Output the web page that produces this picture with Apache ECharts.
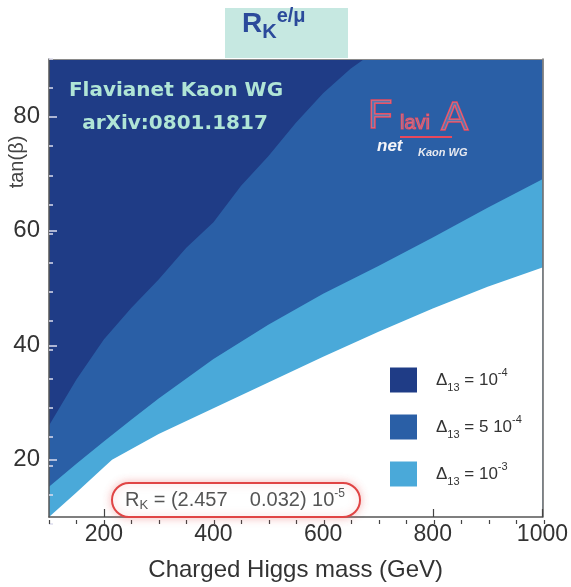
<!DOCTYPE html>
<html><head><meta charset="utf-8">
<script src="https://cdn.jsdelivr.net/npm/echarts@6/dist/echarts.min.js"></script>
<style>html,body{margin:0;padding:0;background:#fff}#c{width:571px;height:587px}</style>
</head><body><div id="c"></div>
<script>
// Boundary of the Δ13 = 1e-4 region (dark, above this line)
const massDark = [100, 150, 200, 250, 300, 350, 400, 450, 500, 550, 600, 650, 675];
const tanDark  = [26, 34, 41, 46.5, 51.5, 57, 61.5, 67.8, 73, 78.8, 84, 88.3, 90];
// Boundary of the Δ13 = 5e-4 region (medium, above this line)
const massMid = [100, 150, 200, 250, 300, 400, 500, 600, 700, 800, 900, 1000];
const tanMid  = [15.3, 19.3, 23.2, 27, 30.7, 37.6, 43.6, 49, 53.8, 58.8, 64, 69];
// Boundary of the Δ13 = 1e-3 region (light, above this line)
const massLow = [100, 150, 200, 215, 300, 400, 500, 600, 700, 800, 900, 1000];
const tanLow  = [10, 14.3, 18.7, 20, 24.5, 29, 33.5, 38, 42.3, 46.4, 50.2, 53.6];

const xTickLabels = [200, 400, 600, 800, 1000];
const yTickLabels = [20, 40, 60, 80];
const legendNames = ['d4', 'd54', 'd3'];
const legendText = {
  d4: '{d|Δ}{s|13}{n| = 10}{p|-4}',
  d54: '{d|Δ}{s|13}{n| = 5 10}{p|-4}',
  d3: '{d|Δ}{s|13}{n| = 10}{p|-3}'
};

const DARK = '#1f3c86', MID = '#2a5fa6', LIGHT = '#4aa9d9';
const zip = (a, b) => a.map((v, i) => [v, b[i]]);

const chart = echarts.init(document.getElementById('c'), null, {renderer: 'canvas'});
const font = 'Liberation Sans';
const areaSeries = (name, xs, ys, color, origin) => ({
  name, type: 'line', data: zip(xs, ys), showSymbol: false, symbol: 'none',
  lineStyle: {width: 0, opacity: 0}, itemStyle: {color},
  areaStyle: {color, opacity: 1, origin}, silent: true, animation: false, clip: true,
  xAxisIndex: 0, yAxisIndex: 0, z: 2
});
const gridBox = {left: 49, right: 27, top: 59, bottom: 63};

chart.setOption({
  animation: false,
  backgroundColor: '#fff',
  grid: [
    Object.assign({show: true, backgroundColor: MID, borderWidth: 0}, gridBox),
    Object.assign({show: false}, gridBox)
  ],
  legend: {
    data: legendNames, orient: 'vertical', left: 385, top: 362, icon: 'rect',
    itemWidth: 27, itemHeight: 25, itemGap: 21, selectedMode: false,
    formatter: n => legendText[n],
    textStyle: {
      padding: [0, 0, 0, 14],
      rich: {
        d: {fontSize: 17, color: '#333', fontFamily: font, lineHeight: 26},
        n: {fontSize: 17, color: '#333', fontFamily: font, lineHeight: 26},
        s: {fontSize: 11, color: '#333', fontFamily: font, verticalAlign: 'bottom', lineHeight: 12},
        p: {fontSize: 11, color: '#333', fontFamily: font, verticalAlign: 'top', lineHeight: 12}
      }
    }
  },
  xAxis: [
    {gridIndex: 0, type: 'value', min: 100, max: 1000, position: 'bottom', z: 10,
     axisLine: {show: true, onZero: false, lineStyle: {color: '#555', width: 1.5}},
     axisTick: {show: true, inside: true, length: 8, customValues: xTickLabels, lineStyle: {color: '#444', width: 1.2}},
     axisLabel: {customValues: xTickLabels, formatter: v => String(v), fontSize: 23, color: '#333', fontFamily: font, margin: 6},
     splitLine: {show: false},
     name: 'Charged Higgs mass (GeV)', nameLocation: 'middle', nameGap: 41,
     nameTextStyle: {fontSize: 24, color: '#333', fontFamily: font}},
    {gridIndex: 0, type: 'value', min: 100, max: 1000, position: 'top', z: 10,
     axisLine: {show: true, onZero: false, lineStyle: {color: '#8a8a8a', width: 1}},
     axisTick: {show: false}, axisLabel: {show: false}, splitLine: {show: false}},
    {gridIndex: 1, type: 'value', min: 100, max: 1000, interval: 50, position: 'bottom', z: 10,
     axisLine: {show: false, onZero: false}, axisLabel: {show: false}, splitLine: {show: false},
     axisTick: {show: true, inside: true, length: 4, lineStyle: {color: '#444', width: 1.2}}}
  ],
  yAxis: [
    {gridIndex: 0, type: 'value', min: 10, max: 90, position: 'left', z: 10,
     axisLine: {show: true, onZero: false, lineStyle: {color: '#555', width: 1.5}},
     axisTick: {show: true, inside: true, length: 8, customValues: yTickLabels, lineStyle: {color: '#dde', width: 1.5}},
     axisLabel: {customValues: yTickLabels, fontSize: 24, color: '#333', fontFamily: font, margin: 9},
     splitLine: {show: false}},
    {gridIndex: 0, type: 'value', min: 10, max: 90, position: 'right', z: 10,
     axisLine: {show: true, onZero: false, lineStyle: {color: '#666', width: 1.5}},
     axisTick: {show: false}, axisLabel: {show: false}, splitLine: {show: false}},
    {gridIndex: 1, type: 'value', min: 10, max: 90, interval: 5, position: 'left', z: 10,
     axisLine: {show: false, onZero: false}, axisLabel: {show: false}, splitLine: {show: false},
     axisTick: {show: true, inside: true, length: 4, lineStyle: {color: '#dde', width: 1.5}}}
  ],
  series: [
    areaSeries('d4', massDark, tanDark, DARK, 'end'),
    {name: 'd54', type: 'line', data: [], itemStyle: {color: MID}, lineStyle: {opacity: 0}},
    areaSeries('d3', massMid, tanMid, LIGHT, 'start'),
    areaSeries('white', massLow, tanLow, '#ffffff', 'start')
  ],
  graphic: [
    // title box
    {type: 'rect', left: 225, top: 8, shape: {width: 123, height: 50}, style: {fill: '#c6e8e1'}, z: 10},
    {type: 'text', left: 242, top: 6, z: 11, style: {
      text: '{r|R}{k|K}{e|e/μ}', rich: {
        r: {fontSize: 28, fontWeight: 'bold', fontFamily: font, fill: '#2b4a9b', lineHeight: 36},
        k: {fontSize: 20, fontWeight: 'bold', fontFamily: font, fill: '#2b4a9b', verticalAlign: 'bottom', lineHeight: 20},
        e: {fontSize: 20, fontWeight: 'bold', fontFamily: font, fill: '#2b4a9b', verticalAlign: 'top', lineHeight: 20}
      }}},
    // y axis name
    {type: 'text', x: 17, y: 162, rotation: Math.PI / 2, z: 11, style: {
      text: 'tan(β)', fontSize: 20, fontFamily: font, fill: '#444', align: 'center', verticalAlign: 'middle'}},
    // Flavianet text
    {type: 'text', x: 176, y: 91, z: 11, style: {text: 'Flavianet Kaon WG', fontSize: 20, fontWeight: 'bold',
      fontFamily: 'DejaVu Sans', fill: '#b0e5d6', align: 'center', verticalAlign: 'middle'}},
    {type: 'text', x: 175, y: 124, z: 11, style: {text: 'arXiv:0801.1817', fontSize: 20, fontWeight: 'bold',
      fontFamily: 'DejaVu Sans', fill: '#b0e5d6', align: 'center', verticalAlign: 'middle'}},
    // FlaviA logo
    {type: 'text', x: 368, y: 137, z: 11, style: {text: 'F', fontSize: 40, fontFamily: font,
      fill: 'rgba(255,220,225,0.2)', stroke: '#e8485c', lineWidth: 1.5, verticalAlign: 'bottom'}},
    {type: 'text', x: 400, y: 133, z: 11, style: {text: 'lavi', fontSize: 20, fontFamily: font,
      fill: 'rgba(255,220,225,0.2)', stroke: '#e8485c', lineWidth: 1.2, verticalAlign: 'bottom'}},
    {type: 'text', x: 441, y: 139, z: 11, style: {text: 'A', fontSize: 41, fontFamily: font,
      fill: 'rgba(255,220,225,0.2)', stroke: '#e8485c', lineWidth: 1.5, verticalAlign: 'bottom'}},
    {type: 'line', z: 11, shape: {x1: 400, y1: 137, x2: 452, y2: 137}, style: {stroke: '#e8485c', lineWidth: 2}},
    {type: 'text', x: 377, y: 146, z: 11, style: {text: 'net', fontSize: 17, fontStyle: 'italic', fontWeight: 'bold',
      fontFamily: font, fill: '#f4f4f8', verticalAlign: 'middle'}},
    {type: 'text', x: 418, y: 153, z: 11, style: {text: 'Kaon WG', fontSize: 11, fontStyle: 'italic', fontWeight: 'bold',
      fontFamily: font, fill: '#e8eaf0', verticalAlign: 'middle'}},
    // R_K box
    {type: 'rect', z: 11, shape: {x: 112, y: 483, width: 248, height: 34, r: 17},
     style: {fill: '#fff', stroke: '#e04545', lineWidth: 2, shadowBlur: 8, shadowColor: 'rgba(230,80,80,0.35)'}},
    {type: 'text', x: 125, y: 500, z: 12, style: {
      text: '{a|R}{b|K}{a| = (2.457    0.032) 10}{c|-5}', verticalAlign: 'middle',
      rich: {
        a: {fontSize: 20, fontFamily: font, fill: '#555', lineHeight: 24},
        b: {fontSize: 13, fontFamily: font, fill: '#555', verticalAlign: 'bottom', lineHeight: 12},
        c: {fontSize: 12, fontFamily: font, fill: '#555', verticalAlign: 'top', lineHeight: 12}
      }}}
  ]
});
</script></body></html>
